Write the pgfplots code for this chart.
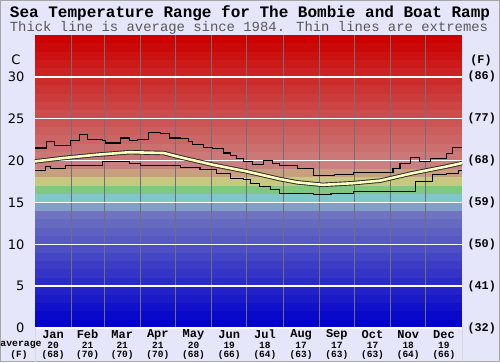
\documentclass[border=0pt]{standalone}
\usepackage{pgfplots}
\pgfplotsset{compat=1.18}
\usepackage{fontspec}
\setmainfont{DejaVu Sans}
\newfontfamily\mono{Liberation Mono}
\definecolor{bg}{RGB}{230,230,250}
\definecolor{avgfill}{RGB}{255,255,192}
\definecolor{vgrid}{RGB}{112,112,120}
\newcommand{\band}[4]{\fill[color={rgb,255:red,#2;green,#3;blue,#4}] (axis cs:0,#1) rectangle (axis cs:365,#1+1);}

\pgfplotstableread{
day val
0 21.5
10 22.3
17 21.8
30 22.4
38 23.1
45 22.5
58 22.4
60 22.1
73 22.7
81 22.4
88 22.5
97 23.3
107 23.2
115 22.7
124 22.6
131 22.3
135 21.9
144 21.6
152 21.4
161 20.9
167 20.6
172 20.3
178 19.9
186 19.5
195 20.0
203 19.7
209 19.4
224 19.0
238 18.2
256 18.3
272 18.6
306 19.0
312 19.7
321 20.4
329 19.9
338 20.3
352 20.8
357 21.6
365 21.6
}\maxtab

\pgfplotstableread{
day val
0 18.8
9 19.3
13 19.1
26 19.4
58 19.9
81 19.7
90 19.4
124 19.2
141 18.9
155 18.5
167 17.9
178 17.7
184 17.3
192 16.9
201 16.5
209 16.1
238 15.9
253 16.1
272 16.3
325 17.5
340 18.3
352 18.5
362 18.8
365 18.8
}\mintab

\pgfplotstableread{
day val
0 19.9
24 20.3
53 20.7
81 21.0
110 20.9
124 20.4
152 19.5
181 18.7
209 17.8
224 17.4
246 17.1
272 17.3
295 17.6
323 18.5
352 19.3
365 19.7
}\avgtab

\begin{document}
\begin{tikzpicture}
\fill[bg] (0,0) rectangle (500pt,362pt);
\useasboundingbox (0,0) rectangle (500pt,362pt);
\draw[black!35, line width=0.8pt] (0.4pt,0.4pt) rectangle (499.6pt,361.6pt);
\node[font=\mono\bfseries\fontsize{16}{16}\selectfont] at (250pt,349pt) {Sea Temperature Range for The Bombie and Boat Ramp};
\node[font=\mono\fontsize{13.9}{14}\selectfont, text=black!65] at (249pt,334pt) {Thick line is average since 1984. Thin lines are extremes};

\begin{axis}[at={(35pt,34pt)}, anchor=south west, width=427pt, height=293pt, scale only axis,
  xmin=0, xmax=365, ymin=0, ymax=35, clip=false,
  axis line style={draw=none}, xtick=\empty, ytick={0,5,...,30}, major tick length=0pt,
  /pgf/number format/assume math mode=true,
  yticklabel style={font=\fontsize{13}{13}\selectfont, xshift=-7pt}]
\band{0}{0}{0}{204}
\band{1}{9}{9}{203}
\band{2}{17}{17}{202}
\band{3}{26}{26}{201}
\band{4}{34}{34}{200}
\band{5}{43}{43}{199}
\band{6}{52}{52}{198}
\band{7}{60}{60}{198}
\band{8}{69}{70}{197}
\band{9}{78}{79}{196}
\band{10}{86}{88}{195}
\band{11}{95}{97}{194}
\band{12}{103}{106}{193}
\band{13}{112}{116}{192}
\band{14}{128}{160}{200}
\band{15}{128}{200}{200}
\band{16}{128}{200}{128}
\band{17}{200}{200}{128}
\band{18}{200}{160}{128}
\band{19}{200}{128}{128}
\band{20}{204}{120}{120}
\band{21}{204}{111}{111}
\band{22}{204}{102}{102}
\band{23}{204}{94}{94}
\band{24}{204}{85}{85}
\band{25}{204}{77}{77}
\band{26}{204}{68}{68}
\band{27}{204}{60}{60}
\band{28}{204}{51}{51}
\band{29}{204}{43}{43}
\band{30}{204}{34}{34}
\band{31}{204}{26}{26}
\band{32}{204}{17}{17}
\band{33}{204}{9}{9}
\band{34}{204}{0}{0}
% month separators
\pgfplotsinvokeforeach{31,59,90,120,151,181,212,243,273,304,334}{
  \draw[vgrid, line width=0.8pt] (axis cs:#1,0) -- (axis cs:#1,35);
}
% horizontal white lines
\pgfplotsinvokeforeach{0,5,10,15,20,25,30}{
  \draw[white, line width=1.5pt] (axis cs:0,#1) -- (axis cs:365,#1);
}
\addplot[const plot, black, line width=1.1pt] table[x=day,y=val] {\maxtab};
\addplot[const plot, black, line width=1.1pt] table[x=day,y=val] {\mintab};
\addplot[black!85, line width=4.4pt] table[x=day,y=val] {\avgtab};
\addplot[avgfill, line width=2.6pt] table[x=day,y=val] {\avgtab};
\end{axis}
\draw[black!15, line width=0.8pt] (35pt,34pt) -- (35pt,0pt);
\draw[black!15, line width=0.8pt] (462pt,34pt) -- (462pt,0pt);
% C / F labels
\node[font=\fontsize{13}{13}\selectfont] at (16pt,302pt) {C};
\node[font=\mono\bfseries\fontsize{11.8}{12}\selectfont] at (481pt,302pt) {(F)};
\foreach \y/\f in {34/32,75.86/41,117.7/50,159.6/59,201.4/68,243.3/77,285.1/86}{
  \node[font=\mono\bfseries\fontsize{11.8}{12}\selectfont, anchor=west] at (464pt,\y pt) {(\f)};
}
% month labels
\foreach \x/\m/\a/\f in {53.1/Jan/20/68,87.6/Feb/21/70,122.2/Mar/21/70,157.8/Apr/21/70,193.5/May/20/68,229.2/Jun/19/66,264.9/Jul/18/64,301.1/Aug/17/63,336.8/Sep/17/63,372.5/Oct/17/63,408.2/Nov/18/64,443.9/Dec/19/66}{
  \node[font=\mono\bfseries\fontsize{12}{12}\selectfont] at (\x pt,27.5pt) {\m};
  \node[font=\mono\bfseries\fontsize{9.5}{9.5}\selectfont] at (\x pt,17pt) {\a};
  \node[font=\mono\bfseries\fontsize{9.5}{9.5}\selectfont] at (\x pt,7pt) {(\f)};
}
\node[font=\mono\bfseries\fontsize{9.8}{10}\selectfont] at (21pt,17pt) {average};
\node[font=\mono\bfseries\fontsize{9.5}{9.5}\selectfont] at (19pt,7pt) {(F)};
\end{tikzpicture}
\end{document}
